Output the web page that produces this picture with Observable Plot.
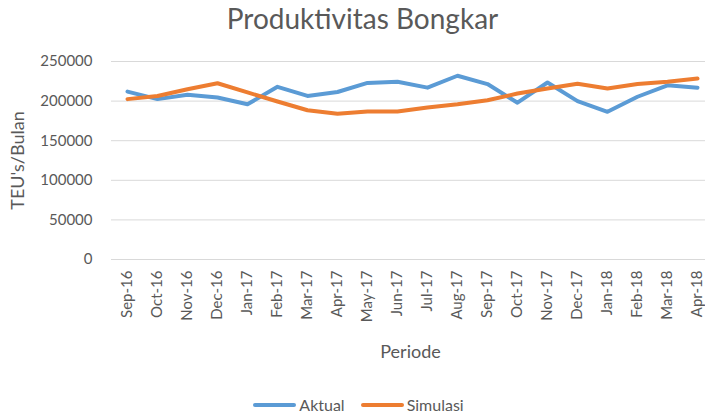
<!DOCTYPE html>
<html>
<head>
<meta charset="utf-8">
<script src="https://cdn.jsdelivr.net/npm/d3@7"></script>
<script src="https://cdn.jsdelivr.net/npm/@observablehq/plot@0.6"></script>
<style>
  body { margin: 0; background: #fff; font-family: Lato, "Open Sans", sans-serif; color: #595959; }
  #wrap { width: 705px; height: 417px; overflow: hidden; position: relative; }
  #title { height: 36px; line-height: 36px; font-size: 28px; text-align: center; padding-left: 20px; box-sizing: border-box; }
  #legend { display: flex; justify-content: center; align-items: center; height: 26px; line-height: 26px; font-size: 16px; margin-top: 1px; padding-left: 12px; box-sizing: border-box; }
  .item { display: flex; align-items: center; margin: 0 8px; }
  .sw { width: 43px; height: 4px; border-radius: 2px; margin-right: 3px; }
</style>
</head>
<body>
<div id="wrap">
  <div id="title">Produktivitas Bongkar</div>
  <div id="chart"></div>
  <div id="legend"></div>
</div>
<script>
const months = ["Sep-16","Oct-16","Nov-16","Dec-16","Jan-17","Feb-17","Mar-17","Apr-17","May-17","Jun-17","Jul-17","Aug-17","Sep-17","Oct-17","Nov-17","Dec-17","Jan-18","Feb-18","Mar-18","Apr-18"];
const aktual = [212000,202500,208000,204500,196000,218000,206500,211500,223000,224500,217000,232000,221500,198000,223500,200000,186500,205500,220000,217000];
const simulasi = [202500,206500,215000,222500,211000,199500,188500,184000,187000,187000,192000,196000,201000,209500,216000,222000,216000,221500,224500,228500];
const seriesNames = ["Aktual","Simulasi"];
const seriesColors = ["#5B9BD5","#ED7D31"];
const yTicks = [0,50000,100000,150000,200000,250000];

const data = [];
months.forEach((m,i) => data.push({month: m, value: aktual[i], series: "Aktual"}));
months.forEach((m,i) => data.push({month: m, value: simulasi[i], series: "Simulasi"}));

const chart = Plot.plot({
  width: 705,
  height: 355,
  marginLeft: 127,
  marginRight: 8,
  marginTop: 25,
  marginBottom: 132,
  style: {fontFamily: "Lato, 'Open Sans', sans-serif", fontSize: "15px", color: "#595959", background: "#fff", overflow: "visible"},
  x: {type: "point", domain: months, padding: 0, label: null},
  y: {domain: [0, 250000], label: null},
  color: {domain: seriesNames, range: seriesColors},
  marks: [
    Plot.ruleY(yTicks, {stroke: "#d9d9d9", strokeWidth: 1, insetLeft: -16, insetRight: -8}),
    Plot.axisY(yTicks, {tickSize: 0, tickPadding: 35, tickFormat: d => String(d), fill: "#595959", label: null, fontSize: 15}),
    Plot.axisX({tickSize: 0, tickPadding: 11, tickRotate: -90, fill: "#595959", label: null, fontSize: 15}),
    Plot.line(data, {x: "month", y: "value", stroke: "series", z: "series", strokeWidth: 4, strokeLinejoin: "round", strokeLinecap: "round"}),
    Plot.text(["TEU's/Bulan"], {text: d => d, frameAnchor: "left", textAnchor: "middle", dx: -109, rotate: -90, fontSize: 18, fill: "#595959", lineAnchor: "middle"}),
    Plot.text(["Periode"], {text: d => d, frameAnchor: "bottom", textAnchor: "middle", dx: -2, dy: 93, fontSize: 18, fill: "#595959", lineAnchor: "middle"})
  ]
});
document.getElementById("chart").appendChild(chart);

const legend = document.getElementById("legend");
seriesNames.forEach((n, i) => {
  const it = document.createElement("div");
  it.className = "item";
  const sw = document.createElement("div");
  sw.className = "sw";
  sw.style.background = seriesColors[i];
  const tx = document.createElement("span");
  tx.textContent = n;
  it.appendChild(sw); it.appendChild(tx);
  legend.appendChild(it);
});
</script>
</body>
</html>
